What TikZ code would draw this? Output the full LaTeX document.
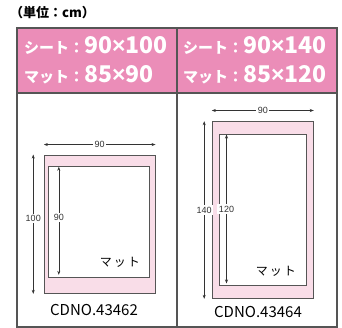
\documentclass[tikz,border=0pt]{standalone}
\usepackage{fontspec}
\setmainfont{Noto Sans CJK JP}
\newfontfamily\dimfont{Liberation Sans}
\usetikzlibrary{arrows.meta, positioning}
\definecolor{headpink}{HTML}{EB8DB8}
\definecolor{sheetpink}{HTML}{F9DDE8}
\definecolor{framegray}{HTML}{555555}
\definecolor{dimgray}{HTML}{333333}
\tikzstyle{cell} = [rectangle, draw=framegray, line width=2pt, anchor=north west, minimum width=160, inner sep=0pt]
\tikzstyle{spec} = [anchor=west, align=left, text=white, font=\bfseries\fontsize{23}{28.5}\selectfont, inner sep=0pt]
\tikzstyle{sheet} = [rectangle, draw=framegray, fill=sheetpink, line width=1pt, inner sep=0pt]
\tikzstyle{mat} = [rectangle, draw=framegray, fill=white, line width=1pt, inner sep=0pt]
\tikzstyle{dim} = [dimgray, line width=0.6pt, {Stealth[length=4pt,width=3pt]}-{Stealth[length=4pt,width=3pt]}]
\tikzstyle{dimlabel} = [fill=white, inner sep=1.5pt, font=\dimfont\fontsize{9}{9}\selectfont, text=dimgray]
\newcommand{\kana}[1]{{\fontsize{15}{15}\selectfont #1}}
\newcommand{\size}[1]{{\fontsize{23}{28.5}\selectfont #1}}
\newcommand{\by}{{\dimfont\bfseries\fontsize{23}{28.5}\selectfont ×}}

\begin{document}
\begin{tikzpicture}[x=1pt, y=-1pt]
    \useasboundingbox (0,0) rectangle (342,327);
    \node (Unit) [anchor=west, inner sep=0pt, font=\bfseries\fontsize{13}{13}\selectfont] at (10,13) {（単位：cm）};
    % table
    \node (HeadA) [cell, fill=headpink, minimum height=65] at (16,27) {};
    \node (HeadB) [cell, fill=headpink, minimum height=65] at (176,27) {};
    \node (BodyA) [cell, minimum height=234] at (16,92) {};
    \node (BodyB) [cell, minimum height=234] at (176,92) {};
    \node (SpecA) [spec] at (24,60.5) {\kana{シート：}\size{90\by100}\\\kana{マット：}\size{85\by90}};
    \node (SpecB) [spec] at (183,60.5) {\kana{シート：}\size{90\by140}\\\kana{マット：}\size{85\by120}};
    % CDNO.43462
    \node (SheetA) [sheet, minimum width=110.7, minimum height=138.3] at (99.7,224.2) {};
    \node (MatA) [mat, minimum width=100.3, minimum height=110.6] at (98.85,222) {};
    \draw [dim] ([yshift=10pt]SheetA.north west) -- node[dimlabel]{90} ([yshift=10pt]SheetA.north east);
    \draw [dim] ([xshift=-10.6pt]SheetA.north west) -- node[dimlabel, pos=0.46]{100} ([xshift=-10.6pt]SheetA.south west);
    \draw [dim] ([xshift=10.6pt,yshift=-0.5pt]MatA.north west) -- node[dimlabel, pos=0.47]{90} ([xshift=10.6pt,yshift=3pt]MatA.south west);
    \node (MatLabelA) [anchor=south east, font=\fontsize{12}{12}\selectfont] at ([xshift=-6pt,yshift=7pt]MatA.south east) {マ\,ッ\,ト};
    \node (NoA) [font=\fontsize{15}{15}\selectfont] at (94,310) {CDNO.43462};
    % CDNO.43464
    \node (SheetB) [sheet, minimum width=101, minimum height=176.6] at (262.8,210) {};
    \node (MatB) [mat, minimum width=86.3, minimum height=151] at (262.85,209.5) {};
    \draw [dim] ([yshift=10.7pt]SheetB.north west) -- node[dimlabel]{90} ([yshift=10.7pt]SheetB.north east);
    \draw [dim] ([xshift=-7.6pt]SheetB.north west) -- node[dimlabel, pos=0.5]{140} ([xshift=-7.6pt]SheetB.south west);
    \draw [dim] ([xshift=7.3pt,yshift=-1pt]MatB.north west) -- node[dimlabel, pos=0.5]{120} ([xshift=7.3pt,yshift=2pt]MatB.south west);
    \node (MatLabelB) [anchor=south east, font=\fontsize{12}{12}\selectfont] at ([xshift=-7pt,yshift=6pt]MatB.south east) {マ\,ッ\,ト};
    \node (NoB) [font=\fontsize{15}{15}\selectfont] at (258,311.5) {CDNO.43464};
\end{tikzpicture}
\end{document}
